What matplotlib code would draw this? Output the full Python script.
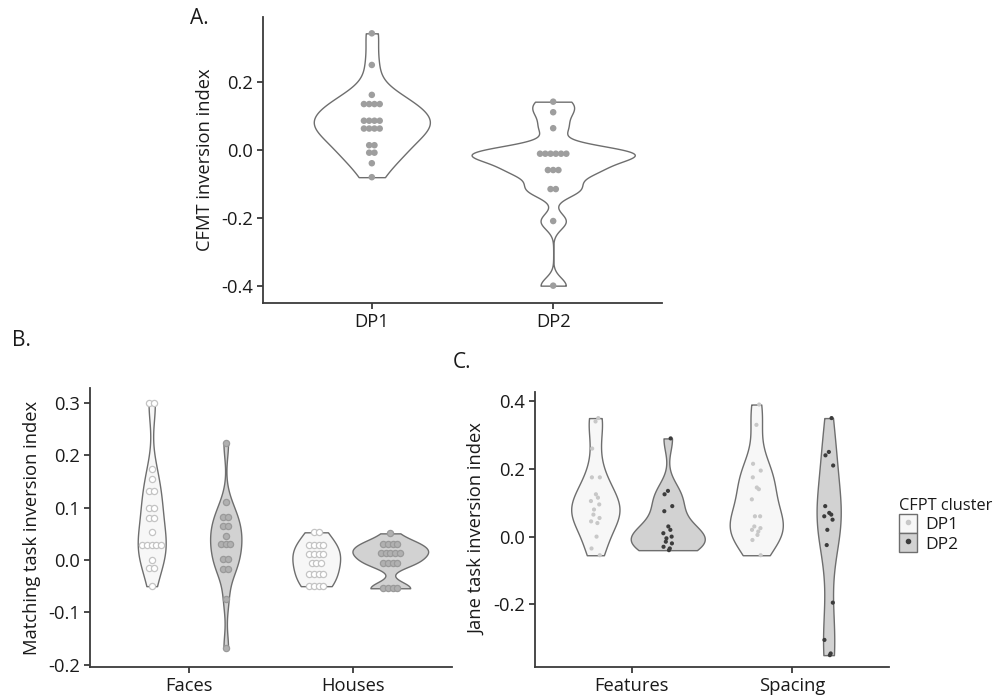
import numpy as np
import matplotlib
matplotlib.use("Agg")
import matplotlib.pyplot as plt
from matplotlib.patches import Patch
from matplotlib.lines import Line2D

plt.rcParams['font.family'] = ['Open Sans', 'DejaVu Sans']
plt.rcParams['axes.unicode_minus'] = False

# ---------------- data ----------------
# Panel A: CFMT inversion index
a_groups = ["DP1", "DP2"]
a_dp1 = [0.342, 0.249, 0.161, 0.134, 0.134, 0.134, 0.134,
         0.085, 0.085, 0.085, 0.085, 0.062, 0.062, 0.062, 0.062,
         0.013, 0.013, -0.009, -0.009, -0.040, -0.081]
a_dp2 = [0.141, 0.110, 0.063, -0.012, -0.012, -0.012, -0.012, -0.012, -0.012,
         -0.060, -0.060, -0.060, -0.116, -0.116, -0.210, -0.400]
a_yticks = [0.2, 0.0, -0.2, -0.4]

# Panel B: Matching task inversion index
b_conditions = ["Faces", "Houses"]
b_faces_dp1 = [0.300, 0.300, 0.175, 0.155, 0.132, 0.132, 0.100, 0.100, 0.080, 0.080,
               0.053, 0.028, 0.028, 0.028, 0.028, 0.028, 0.000, -0.015, -0.015, -0.050]
b_faces_dp2 = [0.224, 0.111, 0.083, 0.083, 0.065, 0.065, 0.045, 0.031, 0.031, 0.031,
               0.001, 0.001, -0.018, -0.018, -0.075, -0.169]
b_houses_dp1 = [0.053, 0.053, 0.029, 0.029, 0.029, 0.029, 0.011, 0.011, 0.011, 0.011,
                -0.006, -0.006, -0.006, -0.027, -0.027, -0.027, -0.027,
                -0.050, -0.050, -0.050, -0.050]
b_houses_dp2 = [0.051, 0.031, 0.031, 0.031, 0.031, 0.014, 0.014, 0.014, 0.014, 0.014,
                -0.005, -0.005, -0.005, -0.005, -0.054, -0.054, -0.054, -0.054]
b_yticks = [0.3, 0.2, 0.1, 0.0, -0.1, -0.2]

# Panel C: Jane task inversion index
c_conditions = ["Features", "Spacing"]
c_feat_dp1 = [0.350, 0.340, 0.260, 0.175, 0.175, 0.125, 0.115, 0.105, 0.095, 0.080,
              0.065, 0.055, 0.045, 0.040, 0.000, -0.035, -0.055]
c_feat_dp2 = [0.290, 0.135, 0.125, 0.090, 0.075, 0.030, 0.020, 0.010, 0.000, -0.005,
              -0.015, -0.020, -0.030, -0.035, -0.040]
c_spac_dp1 = [0.390, 0.330, 0.215, 0.195, 0.175, 0.145, 0.140, 0.110, 0.060, 0.060,
              0.030, 0.025, 0.020, 0.015, 0.005, -0.010, -0.055]
c_spac_dp2 = [0.350, 0.250, 0.240, 0.210, 0.090, 0.070, 0.065, 0.060, 0.050, 0.020,
              -0.025, -0.195, -0.305, -0.345, -0.350]
c_yticks = [0.4, 0.2, 0.0, -0.2]

legend_title = "CFPT cluster"
cluster_labels = ["DP1", "DP2"]

# ---------------- helpers ----------------
EDGE = "#6e6e6e"
AXC = "#3a3a3a"
TXT = "#1a1a1a"
FS = 13.2


def nrd0(x):
    x = np.asarray(x, float)
    n = len(x)
    sd = np.std(x, ddof=1)
    iqr = np.subtract(*np.percentile(x, [75, 25]))
    lo = min(sd, iqr / 1.34) if iqr > 0 else sd
    return 0.9 * lo * n ** -0.2


def violin(ax, data, pos, width, face, adjust=1.0, lw=1.0):
    d = np.asarray(data, float)
    factor = adjust * nrd0(d) / np.std(d, ddof=1)
    parts = ax.violinplot([d], positions=[pos], widths=width, showextrema=False,
                          bw_method=factor, points=300)
    for b in parts['bodies']:
        b.set_facecolor(face)
        b.set_edgecolor(EDGE)
        b.set_alpha(1)
        b.set_linewidth(lw)
        b.set_zorder(1)


def stacked_offsets(data, spacing):
    d = np.round(np.asarray(data, float), 4)
    offs = np.zeros(len(d))
    for v in np.unique(d):
        idx = np.where(d == v)[0]
        n = len(idx)
        offs[idx] = (np.arange(n) - (n - 1) / 2.0) * spacing
    return offs


def jitter_offsets(n, amp):
    k = np.arange(n)
    return amp * np.sin(k * 2.399 + 0.7)


def style_axes(ax, yticks, xlabels, ylabel, ylim):
    for s in ["top", "right"]:
        ax.spines[s].set_visible(False)
    for s in ["left", "bottom"]:
        ax.spines[s].set_color(AXC)
        ax.spines[s].set_linewidth(1.3)
    ax.set_xlim(0.4, 2.6)
    ax.set_ylim(*ylim)
    ax.set_xticks([1, 2])
    ax.set_xticklabels(xlabels)
    ax.set_yticks(yticks)
    ax.set_yticklabels([f"{t:.1f}" for t in yticks])
    ax.tick_params(axis="both", direction="out", length=4, width=1.3, color=AXC,
                   labelsize=FS, labelcolor=TXT, pad=3)
    ax.set_ylabel(ylabel, fontsize=FS, color=TXT, labelpad=5)
    ax.set_facecolor("white")


W, H = 997, 699
fig = plt.figure(figsize=(W / 100, H / 100), dpi=100)
fig.patch.set_facecolor("white")

# ---------------- Panel A ----------------
axA = fig.add_axes([263 / W, 1 - 303 / H, 399 / W, 286 / H])
violin(axA, a_dp1, 1, 0.64, "white")
violin(axA, a_dp2, 2, 0.90, "white")
for pos, d in zip([1, 2], [a_dp1, a_dp2]):
    axA.scatter(pos + stacked_offsets(d, 0.029), d, s=22, color="#9e9e9e",
                edgecolor="none", zorder=3)
style_axes(axA, a_yticks, a_groups, "CFMT inversion index", (-0.451, 0.39))
fig.text(190 / W, 1 - 18 / H, "A.", fontsize=15, color=TXT, va="center", ha="left")

# ---------------- Panel B ----------------
DP1_FILL = "#f7f7f7"
DP2_FILL = "#d2d2d2"
axB = fig.add_axes([90 / W, 1 - 667 / H, 362 / W, 279 / H])
dodge = 0.225
violin(axB, b_faces_dp1, 1 - dodge, 0.17, DP1_FILL)
violin(axB, b_faces_dp2, 1 + dodge, 0.19, DP2_FILL)
violin(axB, b_houses_dp1, 2 - dodge, 0.29, DP1_FILL, adjust=1.5)
violin(axB, b_houses_dp2, 2 + dodge, 0.46, DP2_FILL)
for pos, d in zip([1 - dodge, 2 - dodge], [b_faces_dp1, b_houses_dp1]):
    axB.scatter(pos + stacked_offsets(d, 0.028), d, s=20, facecolor="white",
                edgecolor="#c4c4c4", linewidth=0.9, zorder=3)
for pos, d in zip([1 + dodge, 2 + dodge], [b_faces_dp2, b_houses_dp2]):
    axB.scatter(pos + stacked_offsets(d, 0.028), d, s=20, facecolor="#b0b0b0",
                edgecolor="#9a9a9a", linewidth=0.9, zorder=3)
style_axes(axB, b_yticks, b_conditions, "Matching task inversion index", (-0.2046, 0.329))
fig.text(12 / W, 1 - 340 / H, "B.", fontsize=15, color=TXT, va="center", ha="left")

# ---------------- Panel C ----------------
axC = fig.add_axes([535 / W, 1 - 667 / H, 354 / W, 275 / H])
violin(axC, c_feat_dp1, 1 - dodge, 0.30, DP1_FILL)
violin(axC, c_feat_dp2, 1 + dodge, 0.46, DP2_FILL)
violin(axC, c_spac_dp1, 2 - dodge, 0.33, DP1_FILL)
violin(axC, c_spac_dp2, 2 + dodge, 0.15, DP2_FILL)
for pos, d in zip([1 - dodge, 2 - dodge], [c_feat_dp1, c_spac_dp1]):
    axC.scatter(pos + jitter_offsets(len(d), 0.028), d, s=9, color="#c8c8c8",
                edgecolor="none", zorder=3)
for pos, d in zip([1 + dodge, 2 + dodge], [c_feat_dp2, c_spac_dp2]):
    axC.scatter(pos + jitter_offsets(len(d), 0.028), d, s=9, color="#3c3c3c",
                edgecolor="none", zorder=3)
style_axes(axC, c_yticks, c_conditions, "Jane task inversion index", (-0.385, 0.427))
fig.text(453 / W, 1 - 362 / H, "C.", fontsize=15, color=TXT, va="center", ha="left")

# legend
handles = [
    (Patch(facecolor=DP1_FILL, edgecolor=EDGE, linewidth=1.0),
     Line2D([], [], marker="o", linestyle="none", markersize=3, color="#c8c8c8")),
    (Patch(facecolor=DP2_FILL, edgecolor=EDGE, linewidth=1.0),
     Line2D([], [], marker="o", linestyle="none", markersize=3, color="#3c3c3c")),
]
leg = fig.legend(handles, cluster_labels, title=legend_title, loc="upper left",
                 bbox_to_anchor=(887 / W, 1 - 486 / H), frameon=False,
                 fontsize=12.5, title_fontsize=11.8, handlelength=1.0, handleheight=1.3,
                 labelspacing=0.0, handletextpad=0.5, borderpad=0.2,
                 alignment="left")
for t in leg.get_texts():
    t.set_color(TXT)
leg.get_title().set_color(TXT)

fig.savefig("out.png", dpi=100, facecolor="white")
